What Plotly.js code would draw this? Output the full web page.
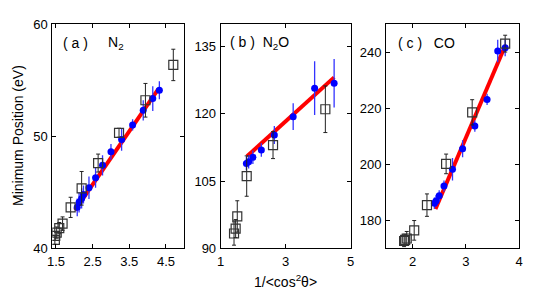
<!DOCTYPE html>
<html><head><meta charset="utf-8">
<script src="https://cdn.plot.ly/plotly-3.0.1.min.js"></script>
<style>html,body{margin:0;padding:0;background:#fff;}#chart{width:547px;height:294px;}</style>
</head><body><div id="chart"></div>
<script>
// Panel (a) N2
const aBlueX = [2.08, 2.13, 2.20, 2.25, 2.40, 2.58, 2.77, 3.00, 3.29, 3.59, 3.88, 4.14, 4.32];
const aBlueY = [43.65, 44.1, 44.45, 44.8, 45.4, 46.3, 47.4, 48.6, 49.7, 51.0, 52.3, 53.35, 54.1];
const aBlueE = [0.8, 0.9, 0.9, 0.8, 1.0, 0.9, 0.9, 0.7, 1.0, 0.5, 0.9, 1.1, 0.8];
const aSqX = [4.70, 3.94, 3.22, 2.65, 2.20, 1.90, 1.68, 1.59, 1.52, 1.48, 1.47];
const aSqY = [56.35, 53.2, 50.3, 47.6, 45.35, 43.65, 42.2, 41.8, 41.4, 41.1, 40.75];
const aSqE = [1.4, 1.5, 0.4, 0.8, 1.5, 0.9, 0.6, 0.5, 0.5, 0.4, 0.4];
const aFitX = [2.02, 4.29];
const aFitY = [43.4, 54.2];
// Panel (b) N2O
const bBlueX = [1.79, 1.86, 1.99, 2.25, 2.65, 3.23, 3.89, 4.49];
const bBlueY = [108.9, 109.3, 110.3, 111.9, 115.25, 119.35, 125.7, 126.8];
const bBlueE = [1.5, 1.5, 1.5, 1.5, 2, 3, 6, 5.4];
const bSqX = [1.80, 2.61, 4.22, 1.51, 1.46, 1.41];
const bSqY = [106.1, 113.0, 121.0, 97.1, 94.4, 93.3];
const bSqE = [4.5, 3, 5.2, 3.5, 2, 2.6];
const bFitX = [1.81, 4.49];
const bFitY = [110.5, 128.1];
// Panel (c) CO
const cBlueX = [3.60, 3.74, 3.40, 3.17, 2.94, 2.75, 2.59, 2.50, 2.44, 2.41];
const cBlueY = [240.4, 241.5, 223.1, 213.6, 205.5, 198.2, 192.2, 188.7, 186.9, 186.1];
const cBlueE = [4, 3, 2, 2, 3, 4, 2, 2, 2, 2];
const cSqX = [3.74, 3.12, 2.63, 2.27, 2.03, 1.89, 1.86, 1.84];
const cSqY = [243.0, 218.5, 200.1, 185.4, 176.4, 173.5, 173.0, 172.6];
const cSqE = [3, 4.5, 3.5, 4, 3.5, 2.5, 2, 2];
const cFitX = [2.43, 3.73];
const cFitY = [184.0, 241.8];

function panel(fx, fy, bx, by, be, sx, sy, se, xa, ya) {
  return [
    {x: fx, y: fy, xaxis: xa, yaxis: ya, type: 'scatter', mode: 'lines',
     line: {color: '#ff0000', width: 4}, hoverinfo: 'skip'},
    {x: bx, y: by, xaxis: xa, yaxis: ya, type: 'scatter', mode: 'markers',
     marker: {color: '#0000ff', size: 7, symbol: 'circle'},
     error_y: {type: 'data', array: be, color: '#3333ff', thickness: 1.3, width: 0}},
    {x: sx, y: sy, xaxis: xa, yaxis: ya, type: 'scatter', mode: 'markers',
     marker: {color: '#333333', size: 9, symbol: 'square-open', line: {color: '#333333', width: 1.2}},
     error_y: {type: 'data', array: se, color: '#222', thickness: 1, width: 2}}
  ];
}
const data = [].concat(
  panel(aFitX, aFitY, aBlueX, aBlueY, aBlueE, aSqX, aSqY, aSqE, 'x', 'y'),
  panel(bFitX, bFitY, bBlueX, bBlueY, bBlueE, bSqX, bSqY, bSqE, 'x2', 'y2'),
  panel(cFitX, cFitY, cBlueX, cBlueY, cBlueE, cSqX, cSqY, cSqE, 'x3', 'y3')
);
const fam = 'Liberation Sans, Arial, sans-serif';
const tf = {family: fam, size: 13, color: '#000'};
function ax(domain, range, tickvals, anchor) {
  return {domain: domain, range: range, tickvals: tickvals, ticktext: tickvals.map(String),
    anchor: anchor, showline: true, linecolor: '#000', linewidth: 1, mirror: 'ticks',
    ticks: 'inside', ticklen: 4, tickcolor: '#000', showgrid: false, zeroline: false,
    tickfont: tf, ticklabelstandoff: 1};
}
const yd = [1 - 248.3/294, 1 - 24/294];
const lf = {family: fam, size: 14, color: '#000'};
const layout = {
  width: 547, height: 294, showlegend: false,
  margin: {l: 0, r: 0, t: 0, b: 0},
  paper_bgcolor: '#fff', plot_bgcolor: '#fff',
  xaxis: ax([52.3/547, 184.3/547], [1.4, 5.0], [1.5, 2.5, 3.5, 4.5], 'y'),
  yaxis: ax(yd, [40, 60], [40, 50, 60], 'x'),
  xaxis2: ax([220.7/547, 350.7/547], [1, 5], [1, 3, 5], 'y2'),
  yaxis2: ax(yd, [90, 140], [90, 105, 120, 135], 'x2'),
  xaxis3: ax([386/547, 519/547], [1.5, 4], [2, 3, 4], 'y3'),
  yaxis3: ax(yd, [170, 250], [180, 200, 220, 240], 'x3'),
  annotations: [
    {text: '( a )', xref: 'paper', yref: 'paper', x: 61/547, y: 1 - 43/294, xanchor: 'left', yanchor: 'middle', showarrow: false, font: lf},
    {text: 'N<sub>2</sub>', xref: 'paper', yref: 'paper', x: 106/547, y: 1 - 43/294, xanchor: 'left', yanchor: 'middle', showarrow: false, font: lf},
    {text: '( b )  N<sub>2</sub>O', xref: 'paper', yref: 'paper', x: 228/547, y: 1 - 43/294, xanchor: 'left', yanchor: 'middle', showarrow: false, font: lf},
    {text: '( c )   CO', xref: 'paper', yref: 'paper', x: 396/547, y: 1 - 43/294, xanchor: 'left', yanchor: 'middle', showarrow: false, font: lf},
    {text: '1/&lt;cos<sup>2</sup>θ&gt;', xref: 'paper', yref: 'paper', x: 285/547, y: 1 - 281/294, xanchor: 'center', yanchor: 'middle', showarrow: false, font: lf},
    {text: 'Minimum Position (eV)', xref: 'paper', yref: 'paper', x: 18/547, y: 1 - 136/294, xanchor: 'center', yanchor: 'middle', textangle: -90, showarrow: false, font: lf}
  ]
};
Plotly.newPlot('chart', data, layout, {staticPlot: true, displayModeBar: false});
</script></body></html>
